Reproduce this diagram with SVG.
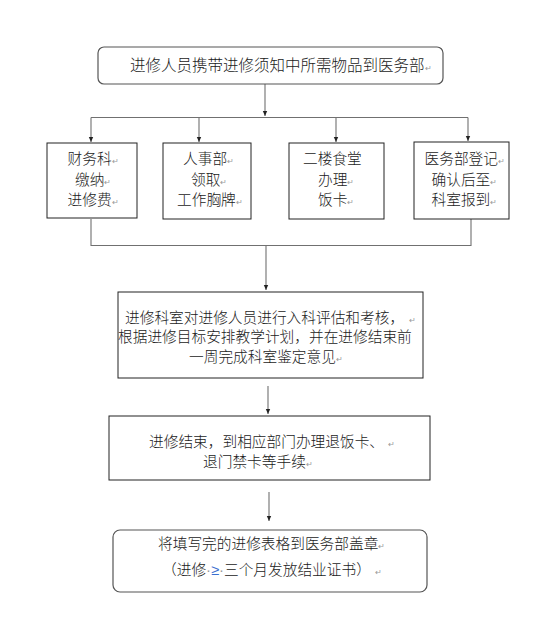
<svg xmlns="http://www.w3.org/2000/svg" width="556" height="638" viewBox="0 0 556 638">
<style>
text{font-family:"Noto Sans CJK SC","Noto Sans",sans-serif;font-size:14.7px;font-weight:300;fill:#1a1a1a}
.t1{font-size:15.5px}
.pm{font-family:"DejaVu Sans",sans-serif;font-size:8px;fill:#999}
.dot{font-family:"Liberation Sans",sans-serif;fill:#999}
.ge{font-family:"Liberation Sans",sans-serif;fill:#3a6fd0}
.box{fill:#fff;stroke:#222;stroke-width:1}
.rbox{fill:#fff;stroke:#555;stroke-width:1.2}
.cn{fill:none;stroke:#707070;stroke-width:1.1}
</style>
<defs>
<marker id="ah" markerUnits="userSpaceOnUse" markerWidth="6" markerHeight="6" refX="5" refY="3" orient="auto">
<path d="M0,0.8 L5,3 L0,5.2 z" fill="#222"/>
</marker>
</defs>
<g id="connectors">
<line class="cn" x1="265" y1="84" x2="265" y2="116" marker-end="url(#ah)"/>
<line class="cn" x1="91" y1="117.5" x2="468" y2="117.5"/>
<line class="cn" x1="91" y1="117.5" x2="91" y2="142" marker-end="url(#ah)"/>
<line class="cn" x1="199" y1="117.5" x2="199" y2="142" marker-end="url(#ah)"/>
<line class="cn" x1="336" y1="117.5" x2="336" y2="142" marker-end="url(#ah)"/>
<line class="cn" x1="468" y1="117.5" x2="468" y2="141" marker-end="url(#ah)"/>
<polyline class="cn" points="91,219 91,245.5 471,245.5 471,219"/>
<line class="cn" x1="266" y1="245.5" x2="266" y2="290" marker-end="url(#ah)"/>
<line class="cn" x1="268" y1="386" x2="268" y2="414" marker-end="url(#ah)"/>
<line class="cn" x1="269" y1="492" x2="269" y2="521" marker-end="url(#ah)"/>
</g>
<g id="n1">
<rect class="rbox" x="98" y="47" width="345" height="37" rx="6"/>
<text class="t1" x="130" y="70.5">进修人员携带进修须知中所需物品到医务部<tspan class="pm">↵</tspan></text>
</g>
<g id="n2">
<rect class="box" x="47" y="143" width="90" height="75"/>
<text x="67.5" y="164">财务科<tspan class="pm">↵</tspan></text>
<text x="75" y="185">缴纳<tspan class="pm">↵</tspan></text>
<text x="67.5" y="205">进修费<tspan class="pm">↵</tspan></text>
</g>
<g id="n3">
<rect class="box" x="163" y="143" width="88" height="76"/>
<text x="183" y="164">人事部<tspan class="pm">↵</tspan></text>
<text x="191" y="185">领取<tspan class="pm">↵</tspan></text>
<text x="177" y="205">工作胸牌<tspan class="pm">↵</tspan></text>
</g>
<g id="n4">
<rect class="box" x="289" y="143" width="95" height="76"/>
<text x="303" y="164">二楼食堂</text>
<text x="318" y="185">办理<tspan class="pm">↵</tspan></text>
<text x="318" y="205">饭卡<tspan class="pm">↵</tspan></text>
</g>
<g id="n5">
<rect class="box" x="414" y="142" width="95" height="77"/>
<text x="424.5" y="164">医务部登记<tspan class="pm">↵</tspan></text>
<text x="431.5" y="185">确认后至<tspan class="pm">↵</tspan></text>
<text x="431.5" y="205">科室报到<tspan class="pm">↵</tspan></text>
</g>
<g id="n6">
<rect class="box" x="118" y="292" width="305" height="86"/>
<text x="125" y="323">进修科室对进修人员进行入科评估和考核，<tspan class="pm" dx="5">↵</tspan></text>
<text x="118" y="342">根据进修目标安排教学计划，并在进修结束前</text>
<text x="189" y="362">一周完成科室鉴定意见<tspan class="pm">↵</tspan></text>
</g>
<g id="n7">
<rect class="box" x="109" y="416" width="321" height="64"/>
<text x="149" y="447">进修结束，到相应部门办理退饭卡、<tspan class="pm" dx="4">↵</tspan></text>
<text x="203" y="467">退门禁卡等手续<tspan class="pm">↵</tspan></text>
</g>
<g id="n8">
<rect class="rbox" x="113" y="530" width="314" height="62" rx="7"/>
<text x="158" y="549">将填写完的进修表格到医务部盖章<tspan class="pm">↵</tspan></text>
<text x="162" y="575">（进修<tspan class="dot">·</tspan><tspan class="ge">≥</tspan><tspan class="dot">·</tspan>三个月发放结业证书）<tspan class="pm" dx="4">↵</tspan></text>
</g>
</svg>
